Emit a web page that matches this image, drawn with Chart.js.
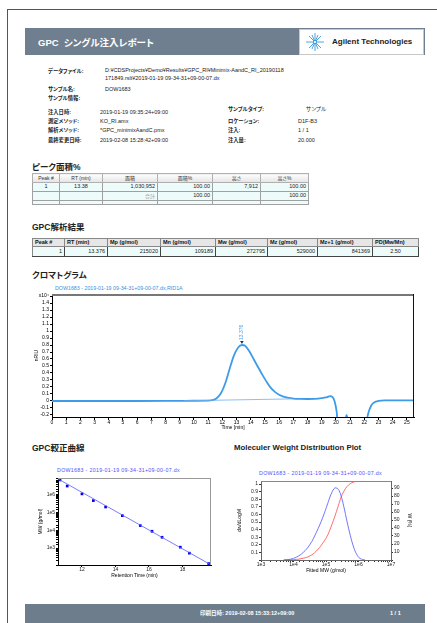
<!DOCTYPE html>
<html><head><meta charset="utf-8">
<script src="https://cdn.jsdelivr.net/npm/chart.js@4.4.1/dist/chart.umd.min.js"></script>
<style>
html,body{margin:0;padding:0;background:#fff;}
body{width:437px;height:623px;overflow:hidden;position:relative;font-family:"Liberation Sans",Arial,"Noto Sans CJK JP",sans-serif;color:#222;font-feature-settings:"palt";}
.a{position:absolute;white-space:nowrap;line-height:1;}
.lb{font-weight:bold;font-size:5.3px;color:#222;}
.v{font-size:5.5px;color:#222;}
.sec{font-weight:bold;font-size:8.5px;color:#222;}
canvas{position:absolute;}
table{position:absolute;border-collapse:collapse;table-layout:fixed;font-size:5.5px;}
td{padding:0 2px;overflow:hidden;white-space:nowrap;line-height:1;}
.t1h td{background:linear-gradient(#fdfdfd,#e4e4e4);border:1px solid #b0b0b0;color:#333;text-align:center;height:8px;font-size:5px;}
.t1d td{background:#eefbfb;border:1px solid #a0a0a0;height:8px;text-align:right;}
.t2h td{background:#e6e6e6;border:1px solid #888;font-weight:bold;color:#111;text-align:left;height:7px;}
.t2d td{background:#eefbfb;border:1px solid #888;border-right-color:#444;border-bottom-color:#444;height:9px;text-align:right;}
</style></head><body>

<div style="position:absolute;left:7px;top:9px;width:440px;height:620px;border-left:1px solid #555;border-top:1px solid #555"></div>

<div style="position:absolute;left:25px;top:28px;width:400px;height:27px;background:#707f8f"></div>
<div class="a" style="left:38px;top:38px;font-size:9.5px;font-weight:bold;color:#fff">GPC&nbsp;&nbsp;シングル注入レポート</div>
<div style="position:absolute;left:299px;top:29px;width:123px;height:24px;background:#fff;border:1px solid #c8c8c8"></div>
<svg style="position:absolute;left:304px;top:32px" width="22" height="20" viewBox="0 0 22 20">
<g stroke="#1e8fd6" stroke-width="0.8" fill="#1e8fd6">
<line x1="11" y1="10" x2="11" y2="1"/><line x1="11" y1="10" x2="11" y2="19"/>
<line x1="11" y1="10" x2="2" y2="10"/><line x1="11" y1="10" x2="20" y2="10"/>
<line x1="11" y1="10" x2="5" y2="4"/><line x1="11" y1="10" x2="17" y2="16"/>
<line x1="11" y1="10" x2="17" y2="4"/><line x1="11" y1="10" x2="5" y2="16"/>
<line x1="11" y1="10" x2="8" y2="3"/><line x1="11" y1="10" x2="14" y2="17"/>
<line x1="11" y1="10" x2="14" y2="3"/><line x1="11" y1="10" x2="8" y2="17"/>
<circle cx="11" cy="10" r="1.6" fill="#fff"/>
</g></svg>
<div class="a" style="left:332px;top:38px;font-size:8px;font-weight:bold;color:#222">Agilent Technologies</div>

<div class="a lb" style="left:48px;top:68.5px">データファイル:</div>
<div class="a v" style="left:105px;top:68px">D:¥CDSProjects¥Demo¥Results¥GPC_RI¥Minimix-AandC_RI_20190118</div>
<div class="a v" style="left:105px;top:75.5px">171849.rslt¥2019-01-19 09-34-31+09-00-07.dx</div>
<div class="a lb" style="left:48px;top:86.5px">サンプル名:</div>
<div class="a v" style="left:105px;top:86.5px">DOW1683</div>
<div class="a lb" style="left:48px;top:95.5px">サンプル情報:</div>
<div class="a lb" style="left:48px;top:109.5px">注入日時:</div>
<div class="a v" style="left:100px;top:109.5px">2019-01-19 09:35:24+09:00</div>
<div class="a lb" style="left:228px;top:106.5px">サンプルタイプ:</div>
<div class="a v" style="left:306px;top:106.5px">サンプル</div>
<div class="a lb" style="left:48px;top:118.5px">測定メソッド:</div>
<div class="a v" style="left:100px;top:118.5px">KO_RI.amx</div>
<div class="a lb" style="left:228px;top:118.5px">ロケーション:</div>
<div class="a v" style="left:298px;top:118.5px">D1F-B3</div>
<div class="a lb" style="left:48px;top:127.5px">解析メソッド:</div>
<div class="a v" style="left:100px;top:127.5px">*GPC_minimixAandC.pmx</div>
<div class="a lb" style="left:228px;top:127.5px">注入:</div>
<div class="a v" style="left:298px;top:127.5px">1 / 1</div>
<div class="a lb" style="left:48px;top:137.5px">最終変更日時:</div>
<div class="a v" style="left:100px;top:137.5px">2019-02-08 15:28:42+09:00</div>
<div class="a lb" style="left:228px;top:137.5px">注入量:</div>
<div class="a v" style="left:298px;top:137.5px">20.000</div>

<div class="a sec" style="left:32px;top:162.5px">ピーク面積%</div>
<div class="a sec" style="left:32px;top:222.5px">GPC解析結果</div>
<div class="a sec" style="left:32px;top:270.5px">クロマトグラム</div>
<div class="a sec" style="left:32px;top:443.5px">GPC較正曲線</div>
<div class="a" style="left:234px;top:444px;font-size:7.8px;font-weight:bold;color:#222">Moleculer Weight Distribution Plot</div>

<div class="a" style="left:55px;top:285.5px;font-size:5.3px;color:#3b8ee0">DOW1683 - 2019-01-19 09-34-31+09-00-07.dx,RID1A</div>
<div class="a" style="left:57px;top:467.5px;font-size:5.3px;color:#5050ff;letter-spacing:0.3px">DOW1683 - 2019-01-19 09-34-31+09-00-07.dx</div>
<div class="a" style="left:259px;top:470.5px;font-size:5.3px;color:#5050ff;letter-spacing:0.3px">DOW1683 - 2019-01-19 09-34-31+09-00-07.dx</div>

<div style="position:absolute;left:25px;top:604px;width:400px;height:19px;background:#6e7d8c"></div>
<div class="a" style="left:200px;top:610.5px;font-size:5.5px;font-weight:bold;color:#fff">印刷日時: 2019-02-08 15:33:12+09:00</div>
<div class="a" style="left:390px;top:610.5px;font-size:5.5px;font-weight:bold;color:#fff">1 / 1</div>

<script>
// ---- table data ----
const peakHead = ['Peak #','RT (min)','面積','面積%','高さ','高さ%'];
const peakRows = [['1','13.38','1,030,952','100.00','7,912','100.00'],['','','合計','100.00','','100.00'],['','','','','','']];
const peakWidths = [27,43,55,55,48,48];
const gpcHead = ['Peak #','RT (min)','Mp (g/mol)','Mn (g/mol)','Mw (g/mol)','Mz (g/mol)','Mz+1 (g/mol)','PD(Mw/Mn)'];
const gpcRow = ['1','13.376','215020','109189','272795','529000','841369','2.50'];
const gpcWidths = [32,43,53,55,52,50,55,46];

// ---- chromatogram data (x10^4) ----
const chromTime = [0,2,4,6,8,9,10,11,11.3,11.6,11.9,12.2,12.5,12.8,13.1,13.38,13.6,13.9,14.2,14.5,14.8,15.1,15.4,15.7,16.0,16.5,17.0,17.5,18.0,18.5,19.0,19.3,19.6,19.75,19.9,20.05,20.2,20.5,20.65,20.75,20.85,21.0,21.5,22.0,22.15,22.3,22.5,22.7,23.0,23.5,24.5,25.5];
const chromSignal = [0,0,0,0,0.001,0.002,0.003,0.005,0.012,0.04,0.11,0.25,0.45,0.64,0.76,0.8,0.79,0.71,0.6,0.49,0.38,0.28,0.19,0.13,0.09,0.05,0.035,0.03,0.028,0.03,0.04,0.05,0.07,0.06,0.0,-0.15,-0.5,-0.5,-0.3,-0.2,-0.3,-0.6,-0.6,-0.5,-0.3,-0.16,-0.06,-0.02,0.0,0.008,0.01,0.01];
const baseTime = [9.3,17.0];
const baseSignal = [0.003,0.03];
const peakRT = [13.376];
const peakHeight = [0.8];
const peakLabel = ['13.376'];

// ---- calibration data ----
const calibRT = [10.69,11.12,12.0,12.68,13.41,14.41,15.48,16.18,16.78,17.87,18.41,19.56];
const calibMW = [7100000,3200000,1150000,480000,209000,67600,18600,8900,4070,1120,513,132];
const fitRT = [10.57,19.7];
const fitMW = [8100000,112];

// ---- MWD data ----
const mwdMW = [5010,7940,12600,19950,31600,50100,79400,112200,141300,177800,199500,239900,288400,354800,446700,562300,707900,891300,1122000,1585000];
const mwdDist = [0,0.01,0.04,0.1,0.2,0.36,0.56,0.74,0.86,0.94,0.95,0.93,0.85,0.7,0.5,0.32,0.17,0.07,0.02,0.0];
const mwdCum = [0,0.2,0.8,2.2,5,11,21,31,41,52,58,68,78,86,92,95.5,97.5,98.7,99.4,99.8];

// ---- build tables ----
function buildTable(left, top, widths, rowsHtml){
  const t = document.createElement('table');
  t.style.left = left+'px'; t.style.top = top+'px';
  t.style.width = widths.reduce((a,b)=>a+b,0)+'px';
  t.innerHTML = '<colgroup>'+widths.map(w=>'<col style="width:'+w+'px">').join('')+'</colgroup>'+rowsHtml;
  document.body.appendChild(t);
}
const t1Align = ['center','center','right','right','right','right'];
let h1 = '<tr class="t1h">'+peakHead.map(h=>'<td>'+h+'</td>').join('')+'</tr>';
peakRows.forEach((r,ri)=>{
  h1 += '<tr class="t1d"'+(ri===2?' style="height:4px"':'')+'>'+r.map((c,i)=>'<td style="text-align:'+t1Align[i]+(ri===2?';height:3px':'')+(c==='合計'?';color:#999;font-size:5px':'')+'">'+c+'</td>').join('')+'</tr>';
});
buildTable(32,173,peakWidths,h1);
let h2 = '<tr class="t2h">'+gpcHead.map(h=>'<td>'+h+'</td>').join('')+'</tr>';
h2 += '<tr class="t2d">'+gpcRow.map((c,i)=>'<td style="text-align:'+(i===gpcRow.length-1?'center':'right')+'">'+c+'</td>').join('')+'</tr>';
buildTable(32,238,gpcWidths,h2);

// ---- charts ----
Chart.defaults.font.family = '"Liberation Sans", Arial, sans-serif';
Chart.defaults.color = '#000';

const framePlugin = {
  id:'frame',
  afterDraw(chart, args, opts){
    const {ctx, chartArea:a} = chart;
    (opts.lines||[]).forEach(l=>{
      ctx.save(); ctx.strokeStyle=l.color; ctx.lineWidth=l.width; ctx.beginPath();
      const o=l.width/2;
      if(l.side==='top'){ctx.moveTo(a.left,a.top+o);ctx.lineTo(a.right,a.top+o);}
      if(l.side==='right'){ctx.moveTo(a.right-o,a.top);ctx.lineTo(a.right-o,a.bottom);}
      ctx.stroke(); ctx.restore();
    });
  }
};

const peakPlugin = {
  id:'peakMark',
  afterDatasetsDraw(chart){
    const {ctx, scales:{x,y}} = chart;
    peakRT.forEach((rt,i)=>{
      const px = x.getPixelForValue(rt), py = y.getPixelForValue(peakHeight[i]);
      ctx.save();
      ctx.fillStyle='#223355';
      ctx.beginPath(); ctx.moveTo(px-1.8,py-4); ctx.lineTo(px+1.8,py-4); ctx.lineTo(px,py-1); ctx.closePath(); ctx.fill();
      ctx.translate(px, py-5);
      ctx.rotate(-Math.PI/2);
      ctx.fillStyle='#4d9ee8';
      ctx.font='5px "Liberation Sans", Arial, sans-serif';
      ctx.textAlign='left'; ctx.textBaseline='middle';
      ctx.fillText(peakLabel[i], 0, 0);
      ctx.restore();
    });
  }
};

function makeChart(left, top, w, h, cfg){
  const c = document.createElement('canvas');
  c.width=w; c.height=h;
  c.style.left=left+'px'; c.style.top=top+'px'; c.style.width=w+'px'; c.style.height=h+'px';
  document.body.appendChild(c);
  cfg.options = Object.assign({responsive:false, animation:false, devicePixelRatio:1, events:[]}, cfg.options);
  return new Chart(c, cfg);
}
const small = {size:5};
const isDecade = v => { const l=Math.log10(v); return Math.abs(l-Math.round(l))<1e-9; };

// Chromatogram
makeChart(32,285,388,146,{
  type:'line',
  data:{datasets:[
    {data:baseTime.map((t,i)=>({x:t,y:baseSignal[i]})), borderColor:'rgba(110,175,240,0.8)', borderWidth:1, pointRadius:0},
    {data:chromTime.map((t,i)=>({x:t,y:chromSignal[i]})), borderColor:'#3d9be9', borderWidth:1.8, pointRadius:0, cubicInterpolationMode:'monotone'}
  ]},
  options:{
    layout:{padding:{top:9,right:6,left:0,bottom:0}},
    plugins:{legend:{display:false},tooltip:{enabled:false},frame:{lines:[{side:'top',color:'#777',width:2},{side:'right',color:'#111',width:1}]}},
    scales:{
      x:{type:'linear',min:0,max:25.5,
        ticks:{stepSize:1,includeBounds:false,autoSkip:false,maxRotation:0,font:small,padding:0,color:'#000'},
        grid:{drawOnChartArea:false,tickLength:3,color:'#000'},
        border:{color:'#000',width:1},
        title:{display:true,text:'Time [min]',font:small,padding:0},
        afterFit:s=>{s.height=14;}},
      y:{type:'linear',min:-0.229,max:1.529,
        ticks:{stepSize:0.1,includeBounds:false,autoSkip:false,font:small,padding:1,color:'#000',
          callback:v=>Math.abs(v-1.5)<1e-6?'x10⁴':String(Math.round(v*10)/10)},
        grid:{drawOnChartArea:false,tickLength:2,color:'#000'},
        border:{color:'#000',width:1},
        title:{display:true,text:'nRIU',font:small,padding:{top:2,bottom:0}},
        afterFit:s=>{s.width=20;}}
    }
  },
  plugins:[framePlugin,peakPlugin]
});

// Calibration curve
makeChart(36,472,179,107,{
  type:'scatter',
  data:{datasets:[
    {type:'line',data:fitRT.map((t,i)=>({x:t,y:fitMW[i]})), borderColor:'#5a5aff', borderWidth:0.8, pointRadius:0},
    {data:calibRT.map((t,i)=>({x:t,y:calibMW[i]})), backgroundColor:'#0000ee', borderColor:'#0000ee', pointStyle:'rect', pointRadius:1.9, borderWidth:0}
  ]},
  options:{
    layout:{padding:{top:6,right:4,left:0,bottom:0}},
    plugins:{legend:{display:false},tooltip:{enabled:false},frame:{lines:[{side:'top',color:'#999',width:1},{side:'right',color:'#999',width:1}]}},
    scales:{
      x:{type:'linear',min:10.57,max:19.7,
        ticks:{stepSize:2,includeBounds:false,autoSkip:false,maxRotation:0,font:small,padding:0,color:'#222'},
        grid:{drawOnChartArea:false,tickLength:2,color:'#000'},
        border:{color:'#000',width:1},
        title:{display:true,text:'Retention Time (min)',font:small,padding:0},
        afterFit:s=>{s.height=14;}},
      y:{type:'logarithmic',min:110,max:9100000,
        ticks:{autoSkip:false,font:small,padding:1,color:'#222',
          callback:v=>isDecade(v)?'1e'+Math.round(Math.log10(v)):''},
        grid:{drawOnChartArea:false,tickLength:2,color:'#000'},
        border:{color:'#000',width:1},
        title:{display:true,text:'MW (g/mol)',font:small,padding:{top:2,bottom:0}},
        afterFit:s=>{s.width=22;}}
    }
  },
  plugins:[framePlugin]
});

// Molecular weight distribution
makeChart(235,475,179,99,{
  type:'line',
  data:{datasets:[
    {data:mwdMW.map((m,i)=>({x:m,y:mwdDist[i]})), borderColor:'#6464ff', borderWidth:0.9, pointRadius:0, tension:0.4, yAxisID:'y'},
    {data:mwdMW.map((m,i)=>({x:m,y:mwdCum[i]})), borderColor:'#ff5a5a', borderWidth:0.9, pointRadius:0, tension:0.4, yAxisID:'y2'}
  ]},
  options:{
    layout:{padding:{top:6,right:0,left:0,bottom:0}},
    plugins:{legend:{display:false},tooltip:{enabled:false},frame:{lines:[{side:'top',color:'#888',width:1}]}},
    scales:{
      x:{type:'logarithmic',min:1000,max:10000000,
        ticks:{autoSkip:false,maxRotation:0,font:small,padding:0,color:'#222',
          callback:v=>isDecade(v)?'1e'+Math.round(Math.log10(v)):''},
        grid:{drawOnChartArea:false,tickLength:2,color:'#333'},
        border:{color:'#666',width:1},
        title:{display:true,text:'Fitted MW (g/mol)',font:small,padding:0},
        afterFit:s=>{s.height=14;}},
      y:{type:'linear',position:'left',min:0,max:1.04,
        ticks:{stepSize:0.1,includeBounds:false,autoSkip:false,font:small,padding:1,color:'#222',
          callback:v=>v<0.05?'':String(Math.round(v*10)/10)},
        grid:{drawOnChartArea:false,tickLength:2,color:'#333'},
        border:{color:'#666',width:1},
        title:{display:true,text:'dw/dLogM',font:small,padding:{top:2,bottom:0}},
        afterFit:s=>{s.width=26;}},
      y2:{type:'linear',position:'right',min:0,max:98.75,
        ticks:{stepSize:10,includeBounds:false,autoSkip:false,font:small,padding:1,color:'#222',
          callback:v=>v<5?'':String(Math.round(v))},
        grid:{drawOnChartArea:false,tickLength:2,color:'#333'},
        border:{color:'#666',width:1},
        title:{display:true,text:'W (%)',font:small,padding:{top:2,bottom:0}},
        afterFit:s=>{s.width=23;}}
    }
  },
  plugins:[framePlugin]
});
</script>
</body></html>
